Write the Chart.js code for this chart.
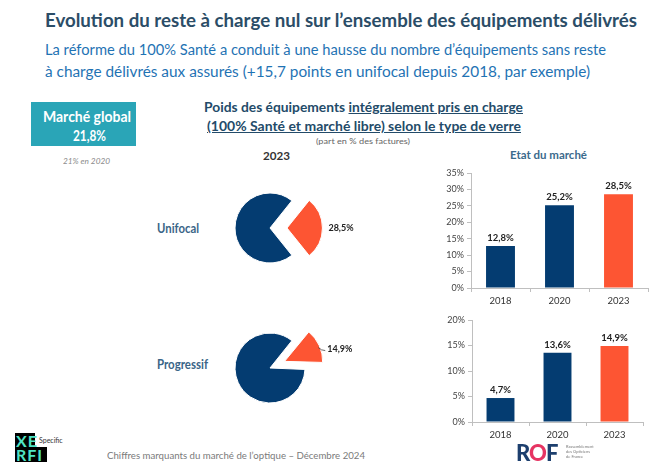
<!DOCTYPE html>
<html>
<head>
<meta charset="utf-8">
<script src="https://cdn.jsdelivr.net/npm/chart.js@4"></script>
<style>
  body { margin: 0; width: 657px; height: 468px; background: #fff; font-family: Lato, sans-serif; position: relative; overflow: hidden; }
  .t { position: absolute; white-space: nowrap; line-height: 1; transform-origin: 0 50%; }
  canvas { position: absolute; }
  #box { position: absolute; left: 31px; top: 102px; width: 105px; height: 44px; background: #2aa5b7; }
  .logo { position: absolute; background: #000; color: #4fe3c4; font-weight: bold; font-size: 16px; line-height: 15px; letter-spacing: 1px; padding-left: 1px; }
</style>
</head>
<body>
<div class="t" data-w="592" style="left:45px;top:10px;font-size:19px;font-weight:bold;color:#2b4d67">Evolution du reste à charge nul sur l’ensemble des équipements délivrés</div>
<div class="t" data-w="561" style="left:45px;top:42px;font-size:15.5px;color:#1f73b4">La réforme du 100% Santé a conduit à une hausse du nombre d’équipements sans reste</div>
<div class="t" data-w="545" style="left:45px;top:64px;font-size:15.5px;color:#1f73b4">à charge délivrés aux assurés (+15,7 points en unifocal depuis 2018, par exemple)</div>

<div id="box"></div>
<div class="t" data-w="88" style="left:43px;top:109px;font-size:15px;font-weight:bold;color:#fff">Marché global</div>
<div class="t" data-w="33" style="left:73px;top:128px;font-size:15px;font-weight:bold;color:#fff">21,8%</div>
<div class="t" data-w="47" style="left:63px;top:157px;font-size:8.5px;font-style:italic;color:#8a8a8a">21% en 2020</div>

<div class="t" data-w="319" style="left:204px;top:100px;font-size:14px;font-weight:bold;color:#234b69">Poids des équipements <u>intégralement pris en charge</u></div>
<div class="t" data-w="314" style="left:207px;top:119px;font-size:14px;font-weight:bold;color:#234b69"><u>(100% Santé et marché libre) selon le type de verre</u></div>
<div class="t" data-w="94" style="left:316px;top:138px;font-size:7.5px;color:#666">(part en % des factures)</div>
<div class="t" data-w="27" style="left:263px;top:150px;font-size:11px;font-weight:bold;color:#333">2023</div>
<div class="t" data-w="77" style="left:510px;top:149px;font-size:11.5px;font-weight:bold;color:#3b6a8c">Etat du marché</div>
<div class="t" data-w="42" style="left:157px;top:223px;font-size:12.5px;font-weight:bold;color:#3a6587">Unifocal</div>
<div class="t" data-w="51" style="left:157px;top:359px;font-size:12.5px;font-weight:bold;color:#3a6587">Progressif</div>

<canvas id="pieUni" width="180" height="96" style="left:180px;top:180px"></canvas>
<canvas id="piePro" width="180" height="96" style="left:180px;top:320px"></canvas>
<canvas id="barUni" width="230" height="147" style="left:425px;top:163px"></canvas>
<canvas id="barPro" width="230" height="134" style="left:425px;top:310px"></canvas>

<div class="logo" style="left:15px;top:433px;width:19px;height:14px">XE</div>
<div class="logo" style="left:15px;top:447px;width:31px;height:15px">RFI</div>
<div class="t" style="left:39px;top:437px;font-size:7px;color:#333">Specific</div>
<div class="t" data-w="258" style="left:107px;top:451px;font-size:9.5px;color:#7a7a7a">Chiffres marquants du marché de l’optique – Décembre 2024</div>
<div class="t" style="left:516px;top:442px;font-size:22px;font-weight:900;color:#1d3f6e;letter-spacing:-1px">R<span style="color:#e63462">O</span>F</div>
<div class="t" style="left:566px;top:444px;font-size:4px;line-height:5px;color:#777">Rassemblement<br>des Opticiens<br>de France</div>

<script>
// valeurs
const categories = ['2018', '2020', '2023'];
const unifocalValues = [12.8, 25.2, 28.5];
const progressifValues = [4.7, 13.6, 14.9];
const unifocalShare = [28.5, 71.5];
const progressifShare = [14.9, 85.1];
const unifocalMax = 35;
const progressifMax = 20;

const navy = '#043c71';
const orange = '#fd5533';
const barColors = [navy, navy, orange];
const pieColors = [orange, navy];

function fmt(v) {
  return v.toFixed(1).replace('.', ',') + '%';
}

// étiquettes au-dessus des barres
const valueLabels = {
  id: 'valueLabels',
  afterDatasetsDraw(chart) {
    const ctx = chart.ctx;
    const ds = chart.data.datasets[0];
    ctx.save();
    ctx.font = 'bold 9.5px Lato';
    ctx.fillStyle = '#222';
    ctx.textAlign = 'center';
    ctx.textBaseline = 'middle';
    chart.getDatasetMeta(0).data.forEach((bar, i) => {
      ctx.fillText(fmt(ds.data[i]), bar.x, bar.y - 8);
    });
    ctx.restore();
  }
};

// étiquette de la part orange du camembert
const pieLabel = {
  id: 'pieLabel',
  afterDatasetsDraw(chart, args, opts) {
    const ctx = chart.ctx;
    const ds = chart.data.datasets[0];
    const arc = chart.getDatasetMeta(0).data[0];
    const mid = (arc.startAngle + arc.endAngle) / 2;
    // décalage réel appliqué par ArcElement (offset / 4, corrigé)
    const circ = arc.endAngle - arc.startAngle;
    const shift = ds.offset[0] / 4 * (2 - Math.sin(Math.min(Math.PI, circ)));
    const r = arc.outerRadius + shift;
    let x = arc.x + Math.cos(mid) * r;
    let y = arc.y + Math.sin(mid) * r;
    ctx.save();
    if (opts.leader) {
      ctx.strokeStyle = '#444';
      ctx.lineWidth = 0.8;
      ctx.beginPath();
      ctx.moveTo(x - 1, y + 2);
      ctx.quadraticCurveTo(x + 2, y + 5, x + 6, y + 5);
      ctx.stroke();
      x += 8; y += 4;
    } else {
      x += 6;
    }
    ctx.font = 'bold 9px Lato';
    ctx.fillStyle = '#222';
    ctx.textAlign = 'left';
    ctx.textBaseline = 'middle';
    ctx.fillText(fmt(ds.data[0]), x, y);
    ctx.restore();
  }
};

function pieChart(id, shares, offset, leader) {
  return new Chart(id, {
    type: 'pie',
    data: {
      labels: ['100% pris en charge', 'Autres'],
      datasets: [{
        data: shares,
        backgroundColor: pieColors,
        borderColor: '#fff',
        borderWidth: 1,
        offset: [offset, 0]
      }]
    },
    options: {
      responsive: false,
      animation: false,
      rotation: 38.7,
      radius: 35,
      plugins: {
        legend: { display: false },
        tooltip: { enabled: false },
        pieLabel: { leader: leader }
      }
    },
    plugins: [pieLabel]
  });
}

function barChart(id, values, max, yWidth, padRight) {
  return new Chart(id, {
    type: 'bar',
    data: {
      labels: categories,
      datasets: [{
        data: values,
        backgroundColor: barColors,
        barPercentage: 0.49,
        categoryPercentage: 1
      }]
    },
    options: {
      responsive: false,
      animation: false,
      layout: { padding: { top: 10, right: padRight, left: 0, bottom: 0 } },
      plugins: { legend: { display: false }, tooltip: { enabled: false } },
      scales: {
        x: {
          grid: { drawOnChartArea: false, tickLength: 4, color: '#bfbfbf' },
          border: { color: '#bfbfbf' },
          ticks: { color: '#333', font: { family: 'Lato', size: 9.5 }, padding: 3 },
          afterFit: s => { s.height = 22; }
        },
        y: {
          min: 0,
          max: max,
          ticks: { stepSize: 5, callback: v => v + '%', color: '#444', font: { family: 'Lato', size: 9 }, padding: 3 },
          grid: { drawOnChartArea: false, tickLength: 4, color: '#bfbfbf' },
          border: { color: '#bfbfbf' },
          afterFit: s => { s.width = yWidth; }
        }
      }
    },
    plugins: [valueLabels]
  });
}

pieChart('pieUni', unifocalShare, 68, false);
pieChart('piePro', progressifShare, 64, true);
barChart('barUni', unifocalValues, unifocalMax, 46, 7);
barChart('barPro', progressifValues, progressifMax, 47, 12);

// ajuste la largeur des textes à celle du modèle
document.querySelectorAll('[data-w]').forEach(el => {
  const w = el.getBoundingClientRect().width;
  el.style.transform = 'scaleX(' + (+el.dataset.w / w) + ')';
});
</script>
</body>
</html>
